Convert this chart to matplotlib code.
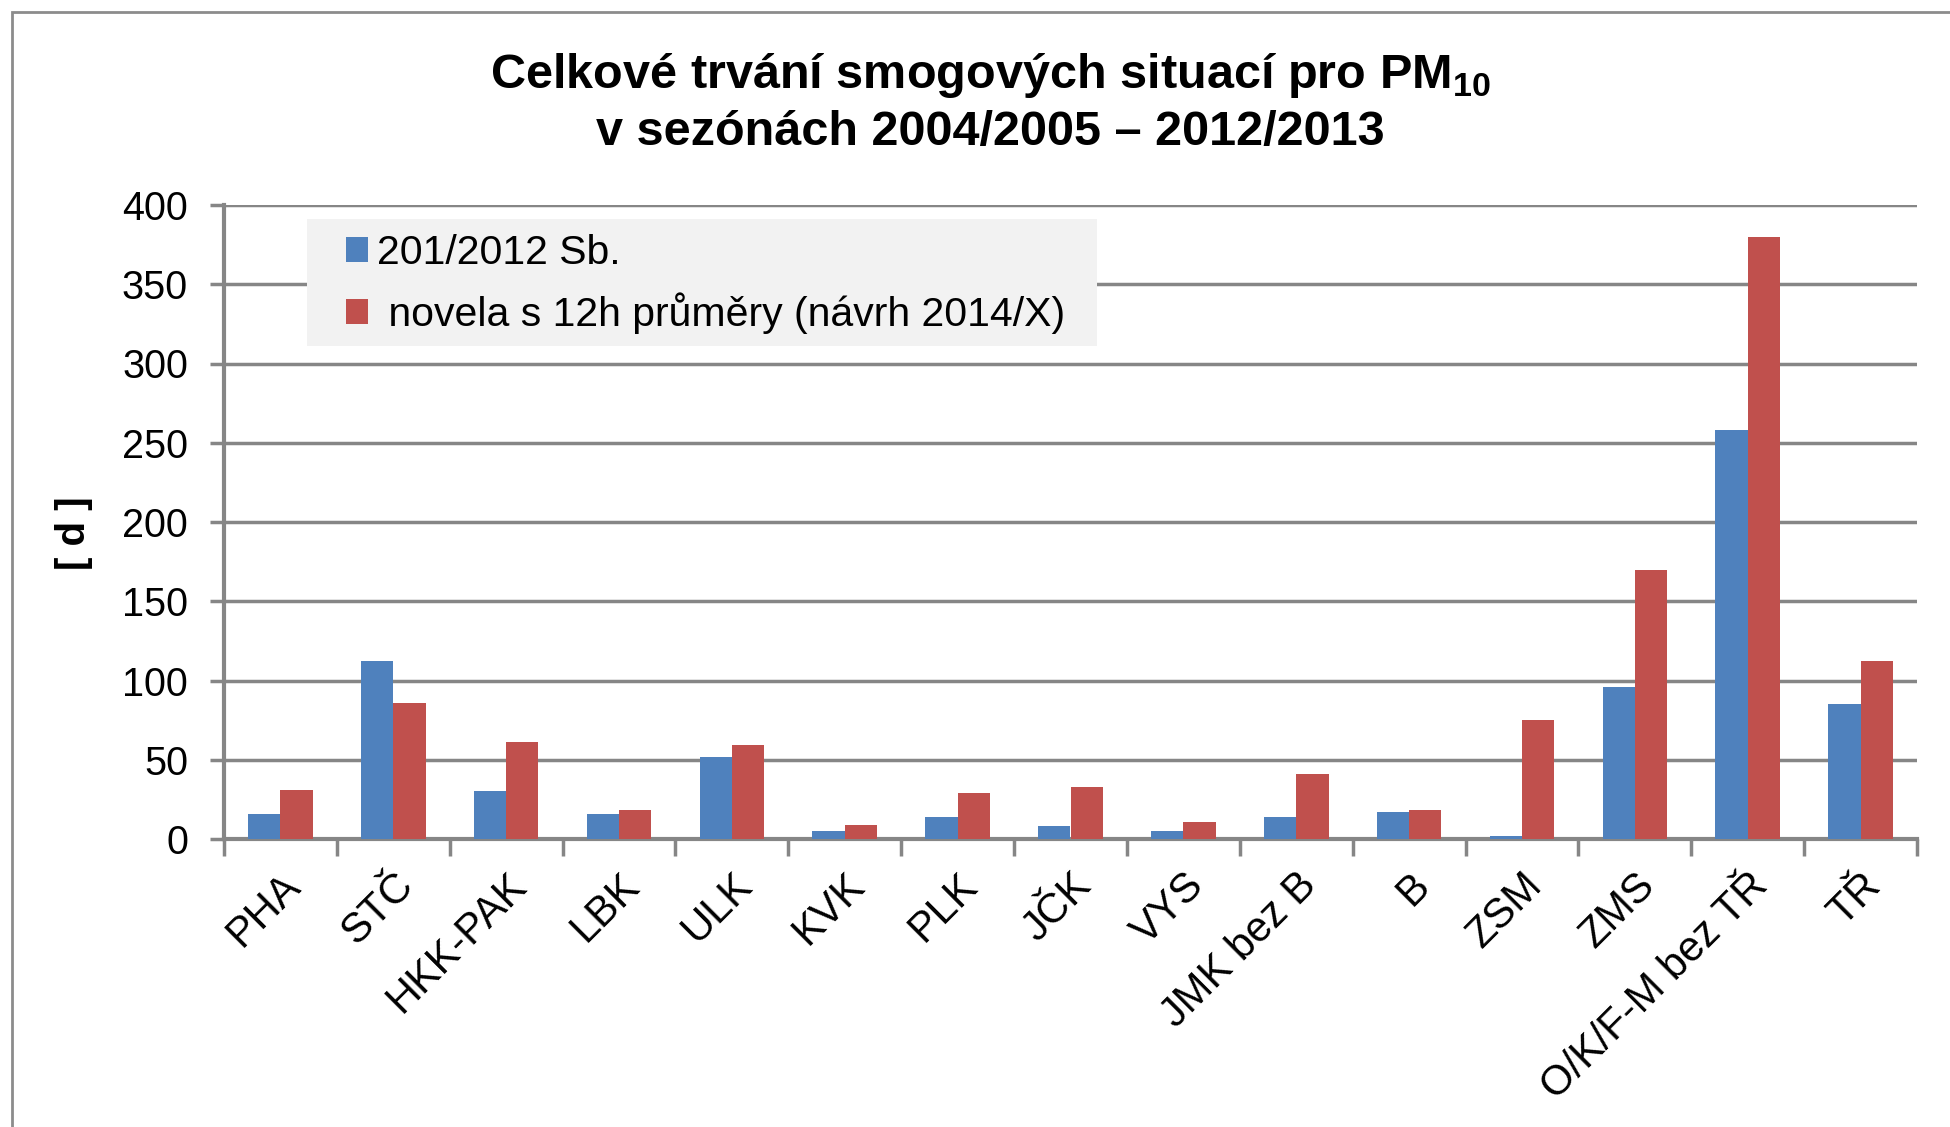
import matplotlib
matplotlib.use('Agg')
import matplotlib.pyplot as plt
import matplotlib.transforms as mtransforms
from matplotlib.patches import Rectangle
import numpy as np

plt.rcParams['font.family'] = ['Liberation Sans', 'DejaVu Sans']
plt.rcParams['mathtext.fontset'] = 'custom'
plt.rcParams['mathtext.rm'] = 'Liberation Sans'
plt.rcParams['mathtext.bf'] = 'Liberation Sans:bold'

# Data
regions = ['PHA', 'STČ', 'HKK-PAK', 'LBK', 'ULK', 'KVK', 'PLK', 'JČK', 'VYS',
           'JMK bez B', 'B', 'ZSM', 'ZMS', 'O/K/F-M bez TŘ', 'TŘ']
current = [16, 112, 30, 16, 52, 5, 14, 8, 5, 14, 17, 2, 96, 258, 85]
amendment = [31, 86, 61, 18, 59, 9, 29, 33, 11, 41, 18, 75, 170, 380, 112]
yticks = [0, 50, 100, 150, 200, 250, 300, 350, 400]

blue = '#4F81BD'
red = '#C0504D'
grey = '#868686'

W, H = 1950, 1127
fig = plt.figure(figsize=(W / 100, H / 100), dpi=100)
ax = fig.add_axes([224 / W, 1 - 839 / H, (1917 - 224) / W, (839 - 205) / H])

# Chart border
fig.patches.append(Rectangle((12 / W, -0.1), 1.2, 1 - 12 / H + 0.1,
                             transform=fig.transFigure, fill=False,
                             edgecolor='#8c8c8c', linewidth=2, zorder=0))

x = np.arange(len(regions))
w = 0.286
ax.bar(x - w / 2, current, w, color=blue, label='201/2012 Sb.', zorder=3)
ax.bar(x + w / 2, amendment, w, color=red,
       label=' novela s 12h průměry (návrh 2014/X)', zorder=3)

ax.set_xlim(-0.5, len(regions) - 0.5)
ax.set_ylim(0, 400)
ax.set_yticks(yticks)
ax.yaxis.grid(True, color=grey, linewidth=2.5, zorder=0)
ax.set_axisbelow(True)

ax.set_xticks(np.arange(-0.5, len(regions), 1.0))
ax.set_xticklabels([])
ax.set_xticks(x, minor=True)
ax.set_xticklabels(regions, minor=True, rotation=45, ha='right',
                   rotation_mode='anchor', fontsize=30)
shift = mtransforms.ScaledTranslation(-19 / 100, 0, fig.dpi_scale_trans)
for lab in ax.get_xticklabels(minor=True):
    lab.set_transform(lab.get_transform() + shift)
ax.tick_params(axis='x', which='minor', length=0, pad=19)
ax.tick_params(axis='x', which='major', length=12, width=2.5, color=grey)
ax.tick_params(axis='y', length=10, width=2.5, color=grey, labelsize=28.5, pad=16)

for side in ['top', 'right']:
    ax.spines[side].set_visible(False)
for side in ['left', 'bottom']:
    ax.spines[side].set_color(grey)
    ax.spines[side].set_linewidth(3)

ax.set_ylabel('[ d ]', fontsize=29, fontweight='bold')
ax.yaxis.set_label_coords(-0.0774, 0.483)

fig.text(0.508, 1 - 76 / H, r'Celkové trvání smogových situací pro PM$_{\mathbf{10}}$',
         ha='center', va='center', fontsize=35, fontweight='bold')
fig.text(0.508, 1 - 132 / H, 'v sezónách 2004/2005 – 2012/2013',
         ha='center', va='center', fontsize=35, fontweight='bold')

# Legend background box (covers the grid lines, sits under the legend)
ax.add_patch(Rectangle((307 / W, 1 - 346 / H), 790 / W, 127 / H,
                       transform=fig.transFigure, facecolor='#f2f2f2',
                       edgecolor='none', zorder=2, clip_on=False))
leg = ax.legend(loc='upper left', bbox_to_anchor=(346 / W, 1 - 234 / H),
                bbox_transform=fig.transFigure, fontsize=29.5, frameon=False,
                handlelength=0.54, handleheight=0.54, handletextpad=0.22,
                labelspacing=0.5, borderpad=0, borderaxespad=0)
leg.set_zorder(5)

fig.savefig('out.png', dpi=100)
